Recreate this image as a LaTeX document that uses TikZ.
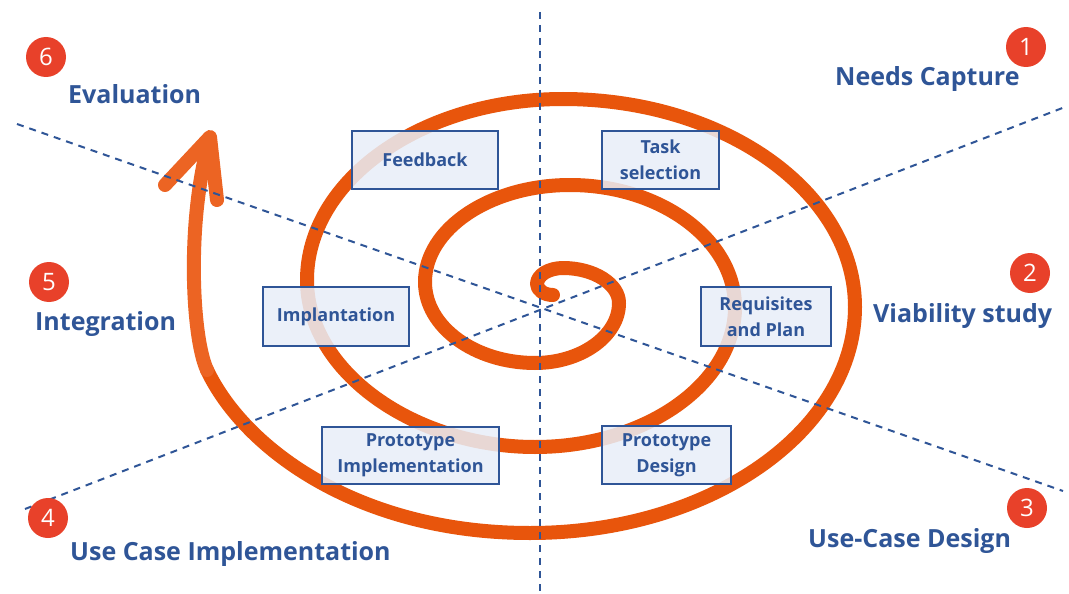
\documentclass[tikz,border=0pt]{standalone}
\usepackage{fontspec}
\setmainfont{Open Sans}
\definecolor{spiralorange}{HTML}{E8550C}
\definecolor{tailorange}{HTML}{EC6423}
\definecolor{guideblue}{HTML}{2F5597}
\definecolor{boxfill}{HTML}{E8EEF8}
\definecolor{badgered}{HTML}{E8412A}
\begin{document}
\begin{tikzpicture}[x=1pt,y=-1pt,
  spiral/.style={line width=14pt, draw=spiralorange, line cap=round, line join=round},
  guide/.style={draw=guideblue, line width=2pt, dash pattern=on 7pt off 6pt},
  phasebox/.style={draw=guideblue, line width=2pt, fill=boxfill, fill opacity=0.85,
    draw opacity=1, text opacity=1, text=guideblue, align=center, inner sep=0pt,
    font=\fontsize{18}{26}\selectfont\bfseries},
  phaselabel/.style={text=guideblue, inner sep=0pt, anchor=base west,
    font=\fontsize{25}{30}\selectfont\bfseries},
  badge/.style={circle, fill=badgered, text=white, minimum size=40pt, inner sep=0pt,
    font=\fontsize{24}{24}\selectfont}]
\useasboundingbox[fill=white] (0,0) rectangle (1069,594);

% spiral
\draw[spiral] (553,295) .. controls (544,295) and (537,290) .. (537,284)
 .. controls (537,275) and (549,268) .. (563,268)
 .. controls (594,268) and (619,284) .. (619,303)
 .. controls (619,336) and (581,363) .. (535,363)
 .. controls (475,363) and (425,327) .. (425,282)
 .. controls (425,229) and (490,185) .. (570,185)
 .. controls (661,185) and (735,240) .. (735,307)
 .. controls (735,384) and (645,447) .. (535,447)
 .. controls (415,447) and (307,372) .. (307,280)
 .. controls (307,180) and (422,99) .. (563,99)
 .. controls (724,99) and (855,192) .. (855,307)
 .. controls (855,431) and (710,533) .. (530,533)
 .. controls (360,533) and (245,450) .. (207,370);
\draw[spiral, draw=tailorange] (207,370) .. controls (192,338) and (186,220) .. (210,138);
\draw[spiral, draw=tailorange] (165,185) -- (210,137) -- (217,200);

% guide lines
\coordinate (v1) at (540,12);
\coordinate (v2) at (540,594);
\coordinate (a1) at (17,124);
\coordinate (a2) at (1063,491);
\coordinate (b1) at (25,509);
\coordinate (b2) at (1065,107);
\draw[guide] (v1) -- (v2);
\draw[guide] (a1) -- (a2);
\draw[guide] (b1) -- (b2);

% boxes
\node[phasebox, minimum width=146pt, minimum height=58pt] (fb) at (425,160) {Feedback};
\node[phasebox, minimum width=117pt, minimum height=58pt] (task) at (660.5,160) {Task\\selection};
\node[phasebox, minimum width=146pt, minimum height=59pt] (impl) at (336,316.5) {Implantation};
\node[phasebox, minimum width=130pt, minimum height=59pt] (req) at (766,316.5) {Requisites\\and Plan};
\node[phasebox, minimum width=177pt, minimum height=57pt] (pimpl) at (410.5,455.5) {Prototype\\Implementation};
\node[phasebox, minimum width=129pt, minimum height=58pt] (pdes) at (666.5,455) {Prototype\\Design};

% labels
\node[phaselabel] (l1) at (835,86) {Needs Capture};
\node[phaselabel] (l2) at (873,322) {Viability study};
\node[phaselabel] (l3) at (808,547) {Use-Case Design};
\node[phaselabel] (l4) at (70,560) {Use Case Implementation};
\node[phaselabel] (l5) at (35,330) {Integration};
\node[phaselabel] (l6) at (68,103) {Evaluation};

% badges
\node[badge] (c1) at (1026,47) {1};
\node[badge] (c2) at (1030,273) {2};
\node[badge] (c3) at (1027,508) {3};
\node[badge] (c4) at (48,518) {4};
\node[badge] (c5) at (49,282) {5};
\node[badge] (c6) at (46,57) {6};
\end{tikzpicture}
\end{document}
